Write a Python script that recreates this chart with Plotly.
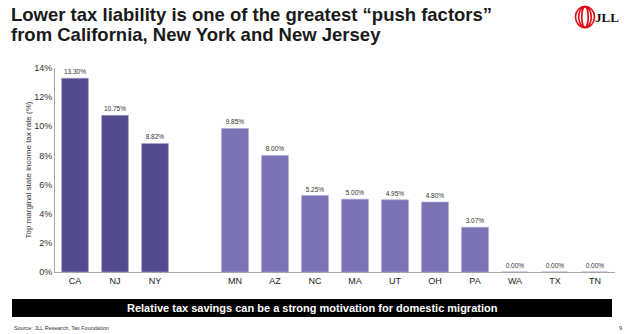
import plotly.graph_objects as go

categories = ["CA", "NJ", "NY", " ", "MN", "AZ", "NC", "MA", "UT", "OH", "PA", "WA", "TX", "TN"]
push_states = ["CA", "NJ", "NY"]
push_values = [13.30, 10.75, 8.82]
other_states = ["MN", "AZ", "NC", "MA", "UT", "OH", "PA", "WA", "TX", "TN"]
other_values = [9.85, 8.00, 5.25, 5.00, 4.95, 4.80, 3.07, 0.00, 0.00, 0.00]
y_ticks = [0, 2, 4, 6, 8, 10, 12, 14]
title_lines = ["Lower tax liability is one of the greatest \u201cpush factors\u201d",
               "from California, New York and New Jersey"]

DARK = "#524b8d"
LIGHT = "#7a73b6"
FONT = "Liberation Sans, Arial, sans-serif"

fig = go.Figure()
for xs, ys, col in [(push_states, push_values, DARK), (other_states, other_values, LIGHT)]:
    fig.add_trace(go.Bar(
        x=xs, y=ys, marker=dict(color=col, line=dict(color="#a9a5d3", width=0.6)),
        texttemplate="%{y:.2f}%", textposition="outside", cliponaxis=False,
        textfont=dict(size=6.5, color="#333333", family=FONT),
    ))

fig.update_layout(
    width=624, height=334,
    margin=dict(l=55, r=9, t=68, b=62),
    paper_bgcolor="white", plot_bgcolor="white",
    showlegend=False, bargap=0.33, barmode="overlay",
    font=dict(family=FONT, color="#333333"),
    xaxis=dict(type="category", categoryorder="array", categoryarray=categories,
               tickfont=dict(size=9, color="#222222"), showline=True, linecolor="#a6a6a6",
               linewidth=1, ticks="", showgrid=False, fixedrange=True),
    yaxis=dict(range=[0, 14], tickmode="array", tickvals=y_ticks,
               ticktext=[f"{v}%" for v in y_ticks], tickfont=dict(size=9, color="#333333"),
               showline=True, linecolor="#a6a6a6", linewidth=1, showgrid=False, zeroline=False,
               ticks="", title=dict(text="Top marginal state income tax rate (%)",
                                    font=dict(size=8, color="#333333"), standoff=1)),
)

# Title (two lines, tight leading)
for line, cy in zip(title_lines, [14, 35]):
    fig.add_annotation(xref="paper", yref="paper", x=-46/560, y=(272 - cy) / 204, xanchor="left",
                       yanchor="middle", text=f"<b>{line}</b>", showarrow=False, align="left",
                       font=dict(size=18.5, color="#1a1a1a", family=FONT))

# Logo: red rings + JLL
cx, cy = 585, 17
for rx in [9.5, 6.3, 3.2]:
    fig.add_shape(type="circle", xref="paper", yref="paper",
                  x0=(cx - rx - 55) / 560, x1=(cx + rx - 55) / 560,
                  y0=(272 - (cy + 10.5)) / 204, y1=(272 - (cy - 10.5)) / 204,
                  line=dict(color="#e30613", width=1.6))
fig.add_annotation(xref="paper", yref="paper", x=(621 - 55) / 560, y=(272 - 17) / 204,
                   xanchor="right", yanchor="middle", text="<b>JLL</b>", showarrow=False,
                   font=dict(size=13, color="#111111", family="Liberation Serif, Times New Roman, serif"))

# Banner
fig.add_shape(type="rect", xref="paper", yref="paper",
              x0=(12 - 55) / 560, x1=(612 - 55) / 560, y0=(272 - 317) / 204, y1=(272 - 299) / 204,
              fillcolor="black", line=dict(width=0), layer="above")
fig.add_annotation(xref="paper", yref="paper", x=(312 - 55) / 560, y=(272 - 308) / 204,
                   xanchor="center", yanchor="middle", showarrow=False,
                   text="<b>Relative tax savings can be a strong motivation for domestic migration</b>",
                   font=dict(size=11, color="white", family=FONT))

# Source and page number
fig.add_annotation(xref="paper", yref="paper", x=(12 - 55) / 560, y=(272 - 328) / 204,
                   xanchor="left", yanchor="middle", showarrow=False,
                   text="Source: JLL Research, Tax Foundation", font=dict(size=5.5, color="#333333", family=FONT))
fig.add_annotation(xref="paper", yref="paper", x=(620 - 55) / 560, y=(272 - 328) / 204,
                   xanchor="center", yanchor="middle", showarrow=False,
                   text="9", font=dict(size=5.5, color="#333333", family=FONT))

fig.write_html("out.html")
